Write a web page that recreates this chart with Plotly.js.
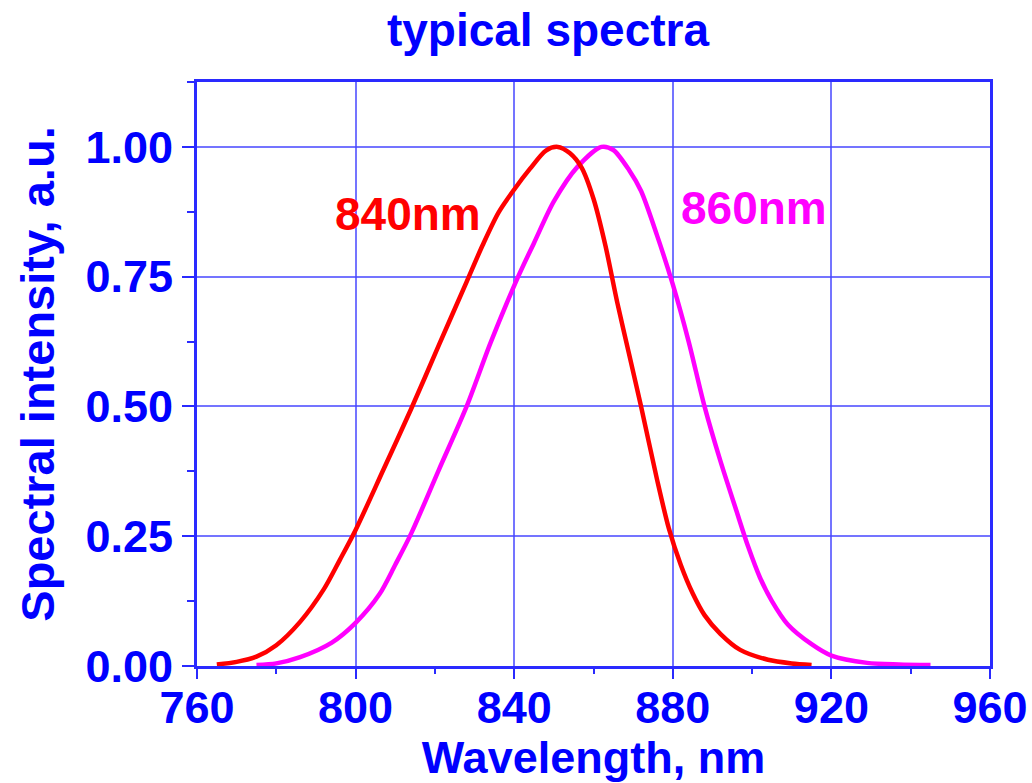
<!DOCTYPE html>
<html>
<head>
<meta charset="utf-8">
<script src="https://cdn.plot.ly/plotly-3.0.1.min.js"></script>
<style>
html,body{margin:0;padding:0;background:#fff;}
#chart{width:1032px;height:783px;}
</style>
</head>
<body>
<div id="chart"></div>
<script>
// Data
const wl840 = [765, 770, 775, 780, 786, 792, 796, 800, 807, 814, 821, 828, 832, 836, 840, 844, 848, 851, 854, 857, 860, 863, 866, 869, 872, 876, 879, 882, 885, 888, 892, 897, 904, 910, 915];
const int840 = [0.003, 0.008, 0.018, 0.04, 0.085, 0.148, 0.204, 0.262, 0.378, 0.495, 0.618, 0.74, 0.81, 0.873, 0.918, 0.958, 0.993, 1.0, 0.988, 0.96, 0.9, 0.81, 0.7, 0.6, 0.5, 0.36, 0.265, 0.195, 0.14, 0.098, 0.062, 0.031, 0.012, 0.005, 0.002];

const wl860 = [775, 780, 786, 794, 800, 806, 810, 814, 821, 828, 834, 841, 845, 850, 856, 862, 865, 869, 872, 876, 880, 884, 888, 892, 896, 899, 902, 905, 909, 915, 920, 929, 937, 945];
const int860 = [0.002, 0.005, 0.017, 0.045, 0.083, 0.138, 0.195, 0.255, 0.378, 0.5, 0.622, 0.75, 0.815, 0.895, 0.962, 1.0, 0.994, 0.955, 0.915, 0.83, 0.735, 0.625, 0.5, 0.395, 0.3, 0.23, 0.17, 0.125, 0.08, 0.042, 0.02, 0.006, 0.003, 0.002];

const seriesNames = ['840nm', '860nm'];
const xTicks = [760, 800, 840, 880, 920, 960];
const yTicks = [0.00, 0.25, 0.50, 0.75, 1.00];

const BLUE = '#0000ff';
const AXIS = '#2a2aff';
const GRID = 'rgba(70,70,255,0.75)';
const FONT = 'Liberation Sans, Arial, Helvetica, sans-serif';

const traces = [
  {x: wl860, y: int860, name: seriesNames[1], mode: 'lines',
   line: {color: '#ff00ff', width: 4.5, shape: 'spline', smoothing: 0.8}},
  {x: wl840, y: int840, name: seriesNames[0], mode: 'lines',
   line: {color: '#ff0000', width: 4.5, shape: 'spline', smoothing: 0.8}},
  // invisible copy so that the tick-mark axis (x2) is drawn
  {x: wl840, y: int840, xaxis: 'x2', yaxis: 'y', mode: 'lines', opacity: 0,
   line: {width: 0}, hoverinfo: 'skip', showlegend: false}
];

const axisCommon = {
  showline: true, linecolor: AXIS, linewidth: 3, mirror: true,
  showgrid: true, gridcolor: GRID, gridwidth: 2,
  zeroline: false,
  ticks: 'outside', ticklen: 12, tickwidth: 2, tickcolor: AXIS,
  tickfont: {family: FONT, size: 45, color: BLUE, weight: 700}
};

const layout = {
  width: 1032, height: 783,
  paper_bgcolor: '#ffffff', plot_bgcolor: '#ffffff',
  margin: {l: 197, r: 42, t: 82, b: 117},
  showlegend: false,
  title: {text: 'typical spectra', x: 0.531, xanchor: 'center', y: 0.962, yanchor: 'middle',
          font: {family: FONT, size: 46, color: BLUE, weight: 700}},
  xaxis: Object.assign({}, axisCommon, {
    range: [760, 960], tickmode: 'array', tickvals: xTicks, ticktext: xTicks.map(String),
    ticks: '', ticklabelstandoff: 0,
    tickfont: {family: FONT, size: 45, color: BLUE, weight: 700},
    title: {text: 'Wavelength, nm', standoff: 14, font: {family: FONT, size: 45, color: BLUE, weight: 700}}
  }),
  // tick marks only (outside), same scale as xaxis
  xaxis2: {
    overlaying: 'x', anchor: 'y', side: 'bottom',
    range: [760, 960], tickmode: 'array', tickvals: xTicks,
    showticklabels: false, showgrid: false, zeroline: false, showline: false,
    ticks: 'outside', ticklen: 12, tickwidth: 2, tickcolor: AXIS,
    minor: {dtick: 20, ticks: 'outside', ticklen: 7, tickwidth: 2, tickcolor: AXIS, showgrid: false}
  },
  yaxis: Object.assign({}, axisCommon, {
    range: [0, 1.125], tickmode: 'array', tickvals: yTicks, ticktext: yTicks.map(v => v.toFixed(2)),
    minor: {dtick: 0.125, ticks: 'outside', ticklen: 7, tickwidth: 2, tickcolor: AXIS, showgrid: false},
    title: {text: 'Spectral intensity, a.u.', standoff: 16, font: {family: FONT, size: 47, color: BLUE, weight: 700}}
  }),
  annotations: [
    {x: 813.3, y: 0.87, xref: 'x', yref: 'y', text: seriesNames[0], showarrow: false,
     font: {family: FONT, size: 46, color: '#ff0000', weight: 700}},
    {x: 900.6, y: 0.882, xref: 'x', yref: 'y', text: seriesNames[1], showarrow: false,
     font: {family: FONT, size: 46, color: '#ff00ff', weight: 700}}
  ]
};

Plotly.newPlot('chart', traces, layout, {displayModeBar: false, staticPlot: true});
</script>
</body>
</html>
